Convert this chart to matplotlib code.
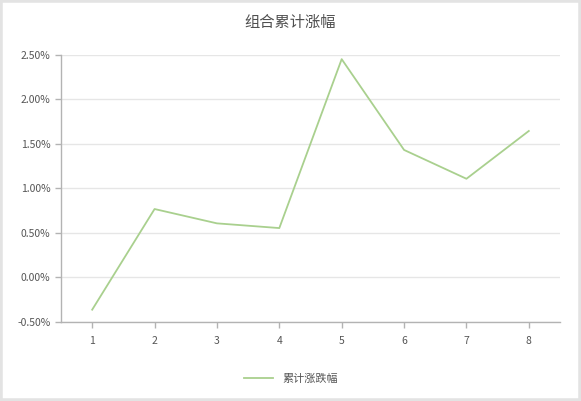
import matplotlib
matplotlib.use('Agg')
import matplotlib.pyplot as plt
from matplotlib.ticker import FuncFormatter
from matplotlib.patches import Rectangle

plt.rcParams['font.family'] = ['Noto Sans CJK SC', 'DejaVu Sans']

# data
periods = [1, 2, 3, 4, 5, 6, 7, 8]
cum_change = [-0.365, 0.766, 0.605, 0.552, 2.45, 1.43, 1.106, 1.643]  # percent
yticks = [-0.5, 0.0, 0.5, 1.0, 1.5, 2.0, 2.5]

W, H = 581, 401
fig = plt.figure(figsize=(W / 100, H / 100), dpi=100)
ax = fig.add_axes([61 / W, 1 - 321.7 / H, (560 - 61) / W, (321.7 - 54.7) / H])

line_col = '#a9d08e'
ax.plot(periods, cum_change, color=line_col, lw=1.3, label='累计涨跌幅')

ax.set_xlim(0.5, 8.5)
ax.set_ylim(-0.5, 2.5)
ax.set_xticks(periods)
ax.set_yticks(yticks)
ax.yaxis.set_major_formatter(FuncFormatter(lambda v, p: '%.2f%%' % v))

ax.grid(axis='y', color='#e6e6e6', lw=1)
ax.set_axisbelow(True)
for s in ['top', 'right']:
    ax.spines[s].set_visible(False)
for s in ['left', 'bottom']:
    ax.spines[s].set_color('#b3b3b3')
    ax.spines[s].set_linewidth(1)
ax.tick_params(axis='both', colors='#b3b3b3', labelcolor='#555555', labelsize=7.5, length=4, width=1)
ax.tick_params(axis='x', pad=6)

fig.text(290 / W, 1 - 22 / H, '组合累计涨幅', ha='center', va='center', fontsize=11,
         color='#505050', fontweight='medium')

leg = fig.legend(loc='center', bbox_to_anchor=(291 / W, 1 - 379 / H), frameon=False,
                 fontsize=8, handlelength=2.6, labelcolor='#555555')

# outer frame
fig.patches.append(Rectangle((0, 0), 1, 1, transform=fig.transFigure, fill=False,
                             edgecolor='#e3e3e3', lw=4))

fig.savefig('out.png', dpi=100)
